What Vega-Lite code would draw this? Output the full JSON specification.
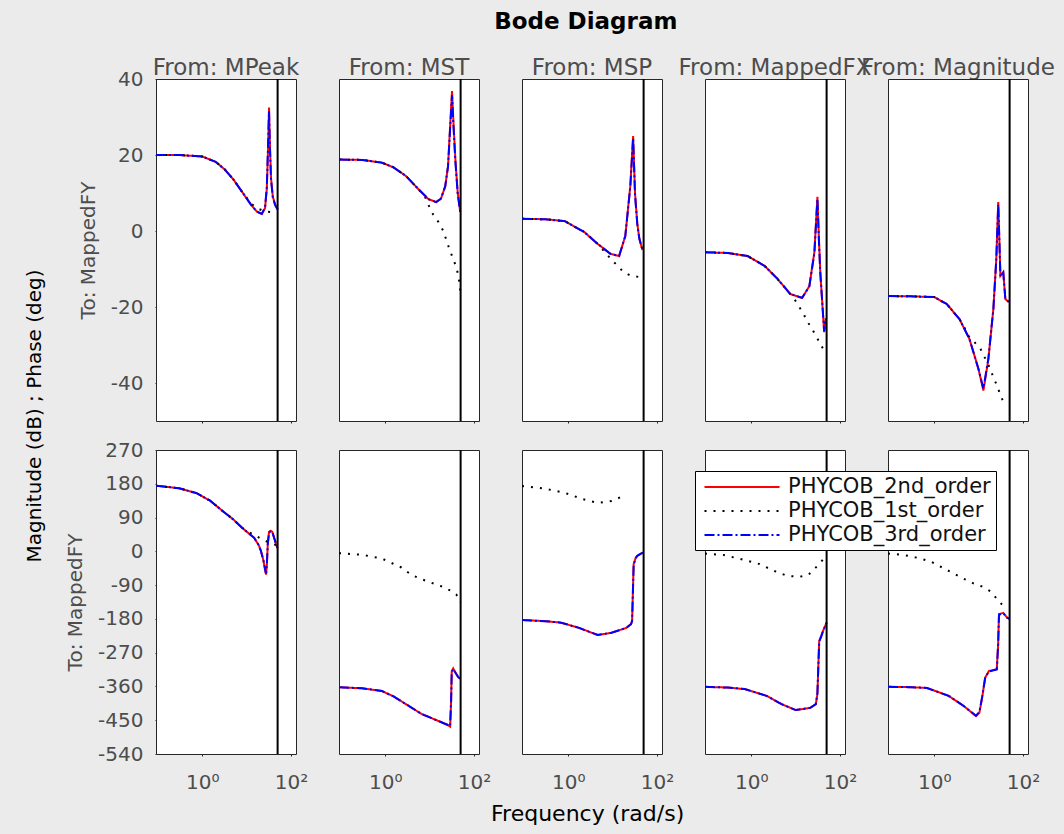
{
  "$schema": "https://vega.github.io/schema/vega-lite/v6.json",
  "background": "#ebebeb",
  "padding": {"left": 24, "top": 11, "right": 40, "bottom": 30},
  "title": {"text": "Bode Diagram", "font": "DejaVu Sans", "fontSize": 23, "fontWeight": "bold", "color": "#000000", "anchor": "middle", "offset": 23, "dx": 46},
  "datasets": {
    "bode": [
      {"i":"MPeak","q":"m","s":"2nd","f":0.09,"v":20},{"i":"MPeak","q":"m","s":"2nd","f":0.3,"v":20},{"i":"MPeak","q":"m","s":"2nd","f":1,"v":19.6},{"i":"MPeak","q":"m","s":"2nd","f":2,"v":18.2},{"i":"MPeak","q":"m","s":"2nd","f":3.2,"v":16.2},{"i":"MPeak","q":"m","s":"2nd","f":5,"v":13.6},{"i":"MPeak","q":"m","s":"2nd","f":8,"v":10.2},{"i":"MPeak","q":"m","s":"2nd","f":12.6,"v":6.9},{"i":"MPeak","q":"m","s":"2nd","f":17,"v":5.1},{"i":"MPeak","q":"m","s":"2nd","f":22,"v":4.5},{"i":"MPeak","q":"m","s":"2nd","f":26,"v":6},{"i":"MPeak","q":"m","s":"2nd","f":28.5,"v":11},{"i":"MPeak","q":"m","s":"2nd","f":30.5,"v":22},{"i":"MPeak","q":"m","s":"2nd","f":32,"v":32.5},{"i":"MPeak","q":"m","s":"2nd","f":33.5,"v":23},{"i":"MPeak","q":"m","s":"2nd","f":35.5,"v":14},{"i":"MPeak","q":"m","s":"2nd","f":39,"v":9},{"i":"MPeak","q":"m","s":"2nd","f":44,"v":7},{"i":"MPeak","q":"m","s":"2nd","f":50,"v":5.8},
      {"i":"MPeak","q":"m","s":"1st","f":0.09,"v":20},{"i":"MPeak","q":"m","s":"1st","f":0.3,"v":20},{"i":"MPeak","q":"m","s":"1st","f":1,"v":19.6},{"i":"MPeak","q":"m","s":"1st","f":2,"v":18.2},{"i":"MPeak","q":"m","s":"1st","f":3.2,"v":16.2},{"i":"MPeak","q":"m","s":"1st","f":5,"v":13.6},{"i":"MPeak","q":"m","s":"1st","f":8,"v":10.2},{"i":"MPeak","q":"m","s":"1st","f":12.6,"v":7.2},{"i":"MPeak","q":"m","s":"1st","f":17,"v":6},{"i":"MPeak","q":"m","s":"1st","f":25,"v":5.2},{"i":"MPeak","q":"m","s":"1st","f":35,"v":5},{"i":"MPeak","q":"m","s":"1st","f":50,"v":5.2},
      {"i":"MPeak","q":"m","s":"3rd","f":0.09,"v":20},{"i":"MPeak","q":"m","s":"3rd","f":0.3,"v":20},{"i":"MPeak","q":"m","s":"3rd","f":1,"v":19.6},{"i":"MPeak","q":"m","s":"3rd","f":2,"v":18.2},{"i":"MPeak","q":"m","s":"3rd","f":3.2,"v":16.2},{"i":"MPeak","q":"m","s":"3rd","f":5,"v":13.6},{"i":"MPeak","q":"m","s":"3rd","f":8,"v":10.2},{"i":"MPeak","q":"m","s":"3rd","f":12.6,"v":6.9},{"i":"MPeak","q":"m","s":"3rd","f":17,"v":5.1},{"i":"MPeak","q":"m","s":"3rd","f":22,"v":4.5},{"i":"MPeak","q":"m","s":"3rd","f":26,"v":6.2},{"i":"MPeak","q":"m","s":"3rd","f":28.5,"v":11.5},{"i":"MPeak","q":"m","s":"3rd","f":30.5,"v":23},{"i":"MPeak","q":"m","s":"3rd","f":32,"v":31.5},{"i":"MPeak","q":"m","s":"3rd","f":33.5,"v":22},{"i":"MPeak","q":"m","s":"3rd","f":35.5,"v":13.5},{"i":"MPeak","q":"m","s":"3rd","f":39,"v":8.8},{"i":"MPeak","q":"m","s":"3rd","f":44,"v":6.8},{"i":"MPeak","q":"m","s":"3rd","f":50,"v":5.6},

      {"i":"MPeak","q":"p","s":"2nd","f":0.09,"v":175},{"i":"MPeak","q":"p","s":"2nd","f":0.3,"v":168},{"i":"MPeak","q":"p","s":"2nd","f":0.74,"v":155},{"i":"MPeak","q":"p","s":"2nd","f":1.5,"v":135},{"i":"MPeak","q":"p","s":"2nd","f":2.9,"v":107},{"i":"MPeak","q":"p","s":"2nd","f":5,"v":85},{"i":"MPeak","q":"p","s":"2nd","f":8,"v":62},{"i":"MPeak","q":"p","s":"2nd","f":14.8,"v":36},{"i":"MPeak","q":"p","s":"2nd","f":19,"v":15},{"i":"MPeak","q":"p","s":"2nd","f":21,"v":1},{"i":"MPeak","q":"p","s":"2nd","f":24,"v":-25},{"i":"MPeak","q":"p","s":"2nd","f":26.5,"v":-55},{"i":"MPeak","q":"p","s":"2nd","f":27.5,"v":-62},{"i":"MPeak","q":"p","s":"2nd","f":28.5,"v":-40},{"i":"MPeak","q":"p","s":"2nd","f":30,"v":20},{"i":"MPeak","q":"p","s":"2nd","f":32,"v":52},{"i":"MPeak","q":"p","s":"2nd","f":35,"v":55},{"i":"MPeak","q":"p","s":"2nd","f":38,"v":52},{"i":"MPeak","q":"p","s":"2nd","f":42,"v":35},{"i":"MPeak","q":"p","s":"2nd","f":46,"v":20},{"i":"MPeak","q":"p","s":"2nd","f":50,"v":8},
      {"i":"MPeak","q":"p","s":"1st","f":0.09,"v":175},{"i":"MPeak","q":"p","s":"1st","f":0.3,"v":168},{"i":"MPeak","q":"p","s":"1st","f":0.74,"v":155},{"i":"MPeak","q":"p","s":"1st","f":1.5,"v":135},{"i":"MPeak","q":"p","s":"1st","f":2.9,"v":107},{"i":"MPeak","q":"p","s":"1st","f":5,"v":85},{"i":"MPeak","q":"p","s":"1st","f":8,"v":62},{"i":"MPeak","q":"p","s":"1st","f":14,"v":45},{"i":"MPeak","q":"p","s":"1st","f":20,"v":35},{"i":"MPeak","q":"p","s":"1st","f":30,"v":25},{"i":"MPeak","q":"p","s":"1st","f":50,"v":15},
      {"i":"MPeak","q":"p","s":"3rd","f":0.09,"v":175},{"i":"MPeak","q":"p","s":"3rd","f":0.3,"v":168},{"i":"MPeak","q":"p","s":"3rd","f":0.74,"v":155},{"i":"MPeak","q":"p","s":"3rd","f":1.5,"v":135},{"i":"MPeak","q":"p","s":"3rd","f":2.9,"v":107},{"i":"MPeak","q":"p","s":"3rd","f":5,"v":85},{"i":"MPeak","q":"p","s":"3rd","f":8,"v":62},{"i":"MPeak","q":"p","s":"3rd","f":14.8,"v":36},{"i":"MPeak","q":"p","s":"3rd","f":19,"v":15},{"i":"MPeak","q":"p","s":"3rd","f":21,"v":1},{"i":"MPeak","q":"p","s":"3rd","f":24,"v":-25},{"i":"MPeak","q":"p","s":"3rd","f":26.5,"v":-52},{"i":"MPeak","q":"p","s":"3rd","f":27.5,"v":-58},{"i":"MPeak","q":"p","s":"3rd","f":28.5,"v":-38},{"i":"MPeak","q":"p","s":"3rd","f":30,"v":20},{"i":"MPeak","q":"p","s":"3rd","f":32,"v":50},{"i":"MPeak","q":"p","s":"3rd","f":35,"v":54},{"i":"MPeak","q":"p","s":"3rd","f":38,"v":51},{"i":"MPeak","q":"p","s":"3rd","f":42,"v":35},{"i":"MPeak","q":"p","s":"3rd","f":46,"v":20},{"i":"MPeak","q":"p","s":"3rd","f":50,"v":8},

      {"i":"MST","q":"m","s":"2nd","f":0.09,"v":18.8},{"i":"MST","q":"m","s":"2nd","f":0.3,"v":18.7},{"i":"MST","q":"m","s":"2nd","f":0.83,"v":18},{"i":"MST","q":"m","s":"2nd","f":1.5,"v":16.8},{"i":"MST","q":"m","s":"2nd","f":2.9,"v":14.5},{"i":"MST","q":"m","s":"2nd","f":5.6,"v":11},{"i":"MST","q":"m","s":"2nd","f":9.4,"v":8.4},{"i":"MST","q":"m","s":"2nd","f":14,"v":7.6},{"i":"MST","q":"m","s":"2nd","f":18,"v":8.5},{"i":"MST","q":"m","s":"2nd","f":22.5,"v":11.8},{"i":"MST","q":"m","s":"2nd","f":26,"v":17},{"i":"MST","q":"m","s":"2nd","f":29,"v":27.6},{"i":"MST","q":"m","s":"2nd","f":32,"v":36.8},{"i":"MST","q":"m","s":"2nd","f":34,"v":30},{"i":"MST","q":"m","s":"2nd","f":38,"v":19},{"i":"MST","q":"m","s":"2nd","f":43,"v":10},{"i":"MST","q":"m","s":"2nd","f":49,"v":5},
      {"i":"MST","q":"m","s":"1st","f":0.09,"v":18.8},{"i":"MST","q":"m","s":"1st","f":0.3,"v":18.7},{"i":"MST","q":"m","s":"1st","f":0.83,"v":18},{"i":"MST","q":"m","s":"1st","f":1.5,"v":16.8},{"i":"MST","q":"m","s":"1st","f":2.9,"v":14.5},{"i":"MST","q":"m","s":"1st","f":5.6,"v":11},{"i":"MST","q":"m","s":"1st","f":8,"v":8.8},{"i":"MST","q":"m","s":"1st","f":11,"v":5},{"i":"MST","q":"m","s":"1st","f":15.7,"v":2.4},{"i":"MST","q":"m","s":"1st","f":20.4,"v":0},{"i":"MST","q":"m","s":"1st","f":26.5,"v":-4},{"i":"MST","q":"m","s":"1st","f":34,"v":-7.4},{"i":"MST","q":"m","s":"1st","f":40,"v":-9.5},{"i":"MST","q":"m","s":"1st","f":45,"v":-12},{"i":"MST","q":"m","s":"1st","f":48,"v":-14.5},{"i":"MST","q":"m","s":"1st","f":50,"v":-17},
      {"i":"MST","q":"m","s":"3rd","f":0.09,"v":18.8},{"i":"MST","q":"m","s":"3rd","f":0.3,"v":18.7},{"i":"MST","q":"m","s":"3rd","f":0.83,"v":18},{"i":"MST","q":"m","s":"3rd","f":1.5,"v":16.8},{"i":"MST","q":"m","s":"3rd","f":2.9,"v":14.5},{"i":"MST","q":"m","s":"3rd","f":5.6,"v":11},{"i":"MST","q":"m","s":"3rd","f":9.4,"v":8.4},{"i":"MST","q":"m","s":"3rd","f":14,"v":7.6},{"i":"MST","q":"m","s":"3rd","f":18,"v":8.5},{"i":"MST","q":"m","s":"3rd","f":22.5,"v":11.8},{"i":"MST","q":"m","s":"3rd","f":26,"v":17},{"i":"MST","q":"m","s":"3rd","f":29,"v":27},{"i":"MST","q":"m","s":"3rd","f":32,"v":35.8},{"i":"MST","q":"m","s":"3rd","f":34,"v":29},{"i":"MST","q":"m","s":"3rd","f":38,"v":18.5},{"i":"MST","q":"m","s":"3rd","f":43,"v":9.8},{"i":"MST","q":"m","s":"3rd","f":49,"v":5},

      {"i":"MST","q":"p","s":"2nd","f":0.09,"v":-362},{"i":"MST","q":"p","s":"2nd","f":0.3,"v":-365},{"i":"MST","q":"p","s":"2nd","f":0.83,"v":-372},{"i":"MST","q":"p","s":"2nd","f":1.5,"v":-386},{"i":"MST","q":"p","s":"2nd","f":2.9,"v":-407},{"i":"MST","q":"p","s":"2nd","f":6.5,"v":-433},{"i":"MST","q":"p","s":"2nd","f":15.7,"v":-452},{"i":"MST","q":"p","s":"2nd","f":25,"v":-462},{"i":"MST","q":"p","s":"2nd","f":29,"v":-467},{"i":"MST","q":"p","s":"2nd","f":30.5,"v":-400},{"i":"MST","q":"p","s":"2nd","f":31.5,"v":-320},{"i":"MST","q":"p","s":"2nd","f":34,"v":-312},{"i":"MST","q":"p","s":"2nd","f":38,"v":-322},{"i":"MST","q":"p","s":"2nd","f":44,"v":-335},{"i":"MST","q":"p","s":"2nd","f":50,"v":-340},
      {"i":"MST","q":"p","s":"1st","f":0.09,"v":-5},{"i":"MST","q":"p","s":"1st","f":0.29,"v":-9},{"i":"MST","q":"p","s":"1st","f":0.83,"v":-19},{"i":"MST","q":"p","s":"1st","f":2.3,"v":-43},{"i":"MST","q":"p","s":"1st","f":3.9,"v":-63},{"i":"MST","q":"p","s":"1st","f":6.5,"v":-74},{"i":"MST","q":"p","s":"1st","f":11,"v":-84},{"i":"MST","q":"p","s":"1st","f":18.3,"v":-93},{"i":"MST","q":"p","s":"1st","f":30,"v":-105},{"i":"MST","q":"p","s":"1st","f":40,"v":-115},{"i":"MST","q":"p","s":"1st","f":50,"v":-136},
      {"i":"MST","q":"p","s":"3rd","f":0.09,"v":-362},{"i":"MST","q":"p","s":"3rd","f":0.3,"v":-365},{"i":"MST","q":"p","s":"3rd","f":0.83,"v":-372},{"i":"MST","q":"p","s":"3rd","f":1.5,"v":-386},{"i":"MST","q":"p","s":"3rd","f":2.9,"v":-407},{"i":"MST","q":"p","s":"3rd","f":6.5,"v":-433},{"i":"MST","q":"p","s":"3rd","f":15.7,"v":-452},{"i":"MST","q":"p","s":"3rd","f":25,"v":-462},{"i":"MST","q":"p","s":"3rd","f":29,"v":-466},{"i":"MST","q":"p","s":"3rd","f":30.5,"v":-398},{"i":"MST","q":"p","s":"3rd","f":31.5,"v":-322},{"i":"MST","q":"p","s":"3rd","f":34,"v":-313},{"i":"MST","q":"p","s":"3rd","f":38,"v":-323},{"i":"MST","q":"p","s":"3rd","f":44,"v":-335},{"i":"MST","q":"p","s":"3rd","f":50,"v":-340},

      {"i":"MSP","q":"m","s":"2nd","f":0.09,"v":3.2},{"i":"MSP","q":"m","s":"2nd","f":0.3,"v":3.1},{"i":"MSP","q":"m","s":"2nd","f":0.83,"v":2.6},{"i":"MSP","q":"m","s":"2nd","f":2.3,"v":-0.3},{"i":"MSP","q":"m","s":"2nd","f":4.6,"v":-3.4},{"i":"MSP","q":"m","s":"2nd","f":8.9,"v":-6},{"i":"MSP","q":"m","s":"2nd","f":14,"v":-6.6},{"i":"MSP","q":"m","s":"2nd","f":19.3,"v":-1.3},{"i":"MSP","q":"m","s":"2nd","f":25,"v":11.8},{"i":"MSP","q":"m","s":"2nd","f":29,"v":25},{"i":"MSP","q":"m","s":"2nd","f":32,"v":10},{"i":"MSP","q":"m","s":"2nd","f":36,"v":2},{"i":"MSP","q":"m","s":"2nd","f":40,"v":-2},{"i":"MSP","q":"m","s":"2nd","f":47,"v":-5},
      {"i":"MSP","q":"m","s":"1st","f":0.09,"v":3.2},{"i":"MSP","q":"m","s":"1st","f":0.3,"v":3.1},{"i":"MSP","q":"m","s":"1st","f":0.83,"v":2.6},{"i":"MSP","q":"m","s":"1st","f":2.3,"v":-0.3},{"i":"MSP","q":"m","s":"1st","f":4.6,"v":-3.4},{"i":"MSP","q":"m","s":"1st","f":8.9,"v":-7.2},{"i":"MSP","q":"m","s":"1st","f":12,"v":-8.8},{"i":"MSP","q":"m","s":"1st","f":17.6,"v":-10.8},{"i":"MSP","q":"m","s":"1st","f":26,"v":-11.8},{"i":"MSP","q":"m","s":"1st","f":45,"v":-12.2},
      {"i":"MSP","q":"m","s":"3rd","f":0.09,"v":3.2},{"i":"MSP","q":"m","s":"3rd","f":0.3,"v":3.1},{"i":"MSP","q":"m","s":"3rd","f":0.83,"v":2.6},{"i":"MSP","q":"m","s":"3rd","f":2.3,"v":-0.3},{"i":"MSP","q":"m","s":"3rd","f":4.6,"v":-3.4},{"i":"MSP","q":"m","s":"3rd","f":8.9,"v":-6},{"i":"MSP","q":"m","s":"3rd","f":14,"v":-6.6},{"i":"MSP","q":"m","s":"3rd","f":19.3,"v":-1.3},{"i":"MSP","q":"m","s":"3rd","f":25,"v":11.5},{"i":"MSP","q":"m","s":"3rd","f":29,"v":24.5},{"i":"MSP","q":"m","s":"3rd","f":32,"v":9.5},{"i":"MSP","q":"m","s":"3rd","f":36,"v":1.8},{"i":"MSP","q":"m","s":"3rd","f":40,"v":-2},{"i":"MSP","q":"m","s":"3rd","f":47,"v":-5},

      {"i":"MSP","q":"p","s":"2nd","f":0.09,"v":-183},{"i":"MSP","q":"p","s":"2nd","f":0.3,"v":-186},{"i":"MSP","q":"p","s":"2nd","f":0.68,"v":-190},{"i":"MSP","q":"p","s":"2nd","f":1.75,"v":-204},{"i":"MSP","q":"p","s":"2nd","f":4.6,"v":-223},{"i":"MSP","q":"p","s":"2nd","f":9.4,"v":-217},{"i":"MSP","q":"p","s":"2nd","f":20.4,"v":-204},{"i":"MSP","q":"p","s":"2nd","f":26,"v":-194},{"i":"MSP","q":"p","s":"2nd","f":27.5,"v":-185},{"i":"MSP","q":"p","s":"2nd","f":29.8,"v":-34},{"i":"MSP","q":"p","s":"2nd","f":33,"v":-18},{"i":"MSP","q":"p","s":"2nd","f":36,"v":-12},{"i":"MSP","q":"p","s":"2nd","f":43.6,"v":-6},{"i":"MSP","q":"p","s":"2nd","f":50,"v":-3},
      {"i":"MSP","q":"p","s":"1st","f":0.09,"v":174},{"i":"MSP","q":"p","s":"1st","f":0.27,"v":168},{"i":"MSP","q":"p","s":"1st","f":0.83,"v":156},{"i":"MSP","q":"p","s":"1st","f":2.1,"v":139},{"i":"MSP","q":"p","s":"1st","f":4.6,"v":129},{"i":"MSP","q":"p","s":"1st","f":9.4,"v":134},{"i":"MSP","q":"p","s":"1st","f":18,"v":148},
      {"i":"MSP","q":"p","s":"3rd","f":0.09,"v":-183},{"i":"MSP","q":"p","s":"3rd","f":0.3,"v":-186},{"i":"MSP","q":"p","s":"3rd","f":0.68,"v":-190},{"i":"MSP","q":"p","s":"3rd","f":1.75,"v":-204},{"i":"MSP","q":"p","s":"3rd","f":4.6,"v":-223},{"i":"MSP","q":"p","s":"3rd","f":9.4,"v":-217},{"i":"MSP","q":"p","s":"3rd","f":20.4,"v":-204},{"i":"MSP","q":"p","s":"3rd","f":26,"v":-194},{"i":"MSP","q":"p","s":"3rd","f":27.5,"v":-185},{"i":"MSP","q":"p","s":"3rd","f":29.8,"v":-36},{"i":"MSP","q":"p","s":"3rd","f":33,"v":-18},{"i":"MSP","q":"p","s":"3rd","f":36,"v":-12},{"i":"MSP","q":"p","s":"3rd","f":43.6,"v":-6},{"i":"MSP","q":"p","s":"3rd","f":50,"v":-3},

      {"i":"MappedFX","q":"m","s":"2nd","f":0.09,"v":-5.6},{"i":"MappedFX","q":"m","s":"2nd","f":0.3,"v":-5.8},{"i":"MappedFX","q":"m","s":"2nd","f":0.83,"v":-6.6},{"i":"MappedFX","q":"m","s":"2nd","f":2,"v":-9.2},{"i":"MappedFX","q":"m","s":"2nd","f":3.9,"v":-12.6},{"i":"MappedFX","q":"m","s":"2nd","f":7.6,"v":-16.6},{"i":"MappedFX","q":"m","s":"2nd","f":14,"v":-17.6},{"i":"MappedFX","q":"m","s":"2nd","f":20.4,"v":-14.5},{"i":"MappedFX","q":"m","s":"2nd","f":26.5,"v":-5.5},{"i":"MappedFX","q":"m","s":"2nd","f":31,"v":9},{"i":"MappedFX","q":"m","s":"2nd","f":33.5,"v":-2},{"i":"MappedFX","q":"m","s":"2nd","f":36,"v":-10.8},{"i":"MappedFX","q":"m","s":"2nd","f":44,"v":-26.6},{"i":"MappedFX","q":"m","s":"2nd","f":48,"v":-23},
      {"i":"MappedFX","q":"m","s":"1st","f":0.09,"v":-5.6},{"i":"MappedFX","q":"m","s":"1st","f":0.3,"v":-5.8},{"i":"MappedFX","q":"m","s":"1st","f":0.83,"v":-6.6},{"i":"MappedFX","q":"m","s":"1st","f":2,"v":-9.2},{"i":"MappedFX","q":"m","s":"1st","f":3.9,"v":-12.6},{"i":"MappedFX","q":"m","s":"1st","f":7.6,"v":-16.6},{"i":"MappedFX","q":"m","s":"1st","f":9,"v":-17.6},{"i":"MappedFX","q":"m","s":"1st","f":11.7,"v":-19.7},{"i":"MappedFX","q":"m","s":"1st","f":15,"v":-21.8},{"i":"MappedFX","q":"m","s":"1st","f":20,"v":-24.5},{"i":"MappedFX","q":"m","s":"1st","f":27,"v":-27},{"i":"MappedFX","q":"m","s":"1st","f":36,"v":-29.7},{"i":"MappedFX","q":"m","s":"1st","f":44,"v":-31.5},{"i":"MappedFX","q":"m","s":"1st","f":48,"v":-31},
      {"i":"MappedFX","q":"m","s":"3rd","f":0.09,"v":-5.6},{"i":"MappedFX","q":"m","s":"3rd","f":0.3,"v":-5.8},{"i":"MappedFX","q":"m","s":"3rd","f":0.83,"v":-6.6},{"i":"MappedFX","q":"m","s":"3rd","f":2,"v":-9.2},{"i":"MappedFX","q":"m","s":"3rd","f":3.9,"v":-12.6},{"i":"MappedFX","q":"m","s":"3rd","f":7.6,"v":-16.6},{"i":"MappedFX","q":"m","s":"3rd","f":14,"v":-17.6},{"i":"MappedFX","q":"m","s":"3rd","f":20.4,"v":-14.5},{"i":"MappedFX","q":"m","s":"3rd","f":26.5,"v":-5.8},{"i":"MappedFX","q":"m","s":"3rd","f":31,"v":8.5},{"i":"MappedFX","q":"m","s":"3rd","f":33.5,"v":-2.5},{"i":"MappedFX","q":"m","s":"3rd","f":36,"v":-11},{"i":"MappedFX","q":"m","s":"3rd","f":44,"v":-26.4},{"i":"MappedFX","q":"m","s":"3rd","f":48,"v":-23},

      {"i":"MappedFX","q":"p","s":"2nd","f":0.09,"v":-361},{"i":"MappedFX","q":"p","s":"2nd","f":0.3,"v":-363},{"i":"MappedFX","q":"p","s":"2nd","f":0.71,"v":-367},{"i":"MappedFX","q":"p","s":"2nd","f":2.2,"v":-385},{"i":"MappedFX","q":"p","s":"2nd","f":4.8,"v":-407},{"i":"MappedFX","q":"p","s":"2nd","f":10.1,"v":-423},{"i":"MappedFX","q":"p","s":"2nd","f":21.4,"v":-417},{"i":"MappedFX","q":"p","s":"2nd","f":28.6,"v":-407},{"i":"MappedFX","q":"p","s":"2nd","f":31,"v":-380},{"i":"MappedFX","q":"p","s":"2nd","f":34,"v":-239},{"i":"MappedFX","q":"p","s":"2nd","f":38,"v":-225},{"i":"MappedFX","q":"p","s":"2nd","f":41.6,"v":-212},{"i":"MappedFX","q":"p","s":"2nd","f":50,"v":-190},
      {"i":"MappedFX","q":"p","s":"1st","f":0.09,"v":-6},{"i":"MappedFX","q":"p","s":"1st","f":0.23,"v":-9.5},{"i":"MappedFX","q":"p","s":"1st","f":0.6,"v":-21},{"i":"MappedFX","q":"p","s":"1st","f":1.54,"v":-34},{"i":"MappedFX","q":"p","s":"1st","f":3.25,"v":-52},{"i":"MappedFX","q":"p","s":"1st","f":6.3,"v":-65},{"i":"MappedFX","q":"p","s":"1st","f":12.1,"v":-68},{"i":"MappedFX","q":"p","s":"1st","f":19.3,"v":-63},{"i":"MappedFX","q":"p","s":"1st","f":34,"v":-34},{"i":"MappedFX","q":"p","s":"1st","f":45,"v":-17},
      {"i":"MappedFX","q":"p","s":"3rd","f":0.09,"v":-361},{"i":"MappedFX","q":"p","s":"3rd","f":0.3,"v":-363},{"i":"MappedFX","q":"p","s":"3rd","f":0.71,"v":-367},{"i":"MappedFX","q":"p","s":"3rd","f":2.2,"v":-385},{"i":"MappedFX","q":"p","s":"3rd","f":4.8,"v":-407},{"i":"MappedFX","q":"p","s":"3rd","f":10.1,"v":-423},{"i":"MappedFX","q":"p","s":"3rd","f":21.4,"v":-417},{"i":"MappedFX","q":"p","s":"3rd","f":28.6,"v":-407},{"i":"MappedFX","q":"p","s":"3rd","f":31,"v":-378},{"i":"MappedFX","q":"p","s":"3rd","f":34,"v":-241},{"i":"MappedFX","q":"p","s":"3rd","f":38,"v":-226},{"i":"MappedFX","q":"p","s":"3rd","f":41.6,"v":-212},{"i":"MappedFX","q":"p","s":"3rd","f":50,"v":-190},

      {"i":"Magnitude","q":"m","s":"2nd","f":0.09,"v":-17.1},{"i":"Magnitude","q":"m","s":"2nd","f":0.3,"v":-17.2},{"i":"Magnitude","q":"m","s":"2nd","f":1,"v":-17.4},{"i":"Magnitude","q":"m","s":"2nd","f":1.9,"v":-19.2},{"i":"Magnitude","q":"m","s":"2nd","f":3.7,"v":-23.2},{"i":"Magnitude","q":"m","s":"2nd","f":6.2,"v":-28.4},{"i":"Magnitude","q":"m","s":"2nd","f":9.9,"v":-36.3},{"i":"Magnitude","q":"m","s":"2nd","f":12.8,"v":-42},{"i":"Magnitude","q":"m","s":"2nd","f":16.6,"v":-33.7},{"i":"Magnitude","q":"m","s":"2nd","f":21.5,"v":-20.5},{"i":"Magnitude","q":"m","s":"2nd","f":25,"v":-7.4},{"i":"Magnitude","q":"m","s":"2nd","f":27.7,"v":7.6},{"i":"Magnitude","q":"m","s":"2nd","f":29.5,"v":-3},{"i":"Magnitude","q":"m","s":"2nd","f":31,"v":-11.8},{"i":"Magnitude","q":"m","s":"2nd","f":36,"v":-10.8},{"i":"Magnitude","q":"m","s":"2nd","f":40,"v":-17.9},{"i":"Magnitude","q":"m","s":"2nd","f":48,"v":-18.7},
      {"i":"Magnitude","q":"m","s":"1st","f":0.09,"v":-17.1},{"i":"Magnitude","q":"m","s":"1st","f":0.3,"v":-17.2},{"i":"Magnitude","q":"m","s":"1st","f":1,"v":-17.4},{"i":"Magnitude","q":"m","s":"1st","f":1.9,"v":-19.2},{"i":"Magnitude","q":"m","s":"1st","f":3.7,"v":-23.2},{"i":"Magnitude","q":"m","s":"1st","f":4.6,"v":-25},{"i":"Magnitude","q":"m","s":"1st","f":5.8,"v":-27.5},{"i":"Magnitude","q":"m","s":"1st","f":8,"v":-29.2},{"i":"Magnitude","q":"m","s":"1st","f":11,"v":-31},{"i":"Magnitude","q":"m","s":"1st","f":17,"v":-35.5},{"i":"Magnitude","q":"m","s":"1st","f":25,"v":-40.3},{"i":"Magnitude","q":"m","s":"1st","f":36,"v":-45},{"i":"Magnitude","q":"m","s":"1st","f":45,"v":-45.5},
      {"i":"Magnitude","q":"m","s":"3rd","f":0.09,"v":-17.1},{"i":"Magnitude","q":"m","s":"3rd","f":0.3,"v":-17.2},{"i":"Magnitude","q":"m","s":"3rd","f":1,"v":-17.4},{"i":"Magnitude","q":"m","s":"3rd","f":1.9,"v":-19.2},{"i":"Magnitude","q":"m","s":"3rd","f":3.7,"v":-23.2},{"i":"Magnitude","q":"m","s":"3rd","f":6.2,"v":-28.4},{"i":"Magnitude","q":"m","s":"3rd","f":9.9,"v":-36.3},{"i":"Magnitude","q":"m","s":"3rd","f":12.8,"v":-41.5},{"i":"Magnitude","q":"m","s":"3rd","f":16.6,"v":-33.5},{"i":"Magnitude","q":"m","s":"3rd","f":21.5,"v":-20.5},{"i":"Magnitude","q":"m","s":"3rd","f":25,"v":-7.6},{"i":"Magnitude","q":"m","s":"3rd","f":27.7,"v":7},{"i":"Magnitude","q":"m","s":"3rd","f":29.5,"v":-3.5},{"i":"Magnitude","q":"m","s":"3rd","f":31,"v":-12},{"i":"Magnitude","q":"m","s":"3rd","f":36,"v":-11},{"i":"Magnitude","q":"m","s":"3rd","f":40,"v":-17.8},{"i":"Magnitude","q":"m","s":"3rd","f":48,"v":-18.7},

      {"i":"Magnitude","q":"p","s":"2nd","f":0.09,"v":-361},{"i":"Magnitude","q":"p","s":"2nd","f":0.3,"v":-362},{"i":"Magnitude","q":"p","s":"2nd","f":0.68,"v":-364},{"i":"Magnitude","q":"p","s":"2nd","f":2.1,"v":-385},{"i":"Magnitude","q":"p","s":"2nd","f":4.6,"v":-412},{"i":"Magnitude","q":"p","s":"2nd","f":8.7,"v":-439},{"i":"Magnitude","q":"p","s":"2nd","f":10.4,"v":-430},{"i":"Magnitude","q":"p","s":"2nd","f":12,"v":-390},{"i":"Magnitude","q":"p","s":"2nd","f":14,"v":-337},{"i":"Magnitude","q":"p","s":"2nd","f":17,"v":-319},{"i":"Magnitude","q":"p","s":"2nd","f":25.7,"v":-314},{"i":"Magnitude","q":"p","s":"2nd","f":27.5,"v":-250},{"i":"Magnitude","q":"p","s":"2nd","f":28.8,"v":-167},{"i":"Magnitude","q":"p","s":"2nd","f":36,"v":-164},{"i":"Magnitude","q":"p","s":"2nd","f":44,"v":-177},{"i":"Magnitude","q":"p","s":"2nd","f":50,"v":-180},
      {"i":"Magnitude","q":"p","s":"1st","f":0.09,"v":-6},{"i":"Magnitude","q":"p","s":"1st","f":0.2,"v":-9.5},{"i":"Magnitude","q":"p","s":"1st","f":0.45,"v":-18},{"i":"Magnitude","q":"p","s":"1st","f":0.86,"v":-28},{"i":"Magnitude","q":"p","s":"1st","f":2.1,"v":-52},{"i":"Magnitude","q":"p","s":"1st","f":4.1,"v":-70},{"i":"Magnitude","q":"p","s":"1st","f":7.2,"v":-84},{"i":"Magnitude","q":"p","s":"1st","f":11.5,"v":-93},{"i":"Magnitude","q":"p","s":"1st","f":18.3,"v":-106},{"i":"Magnitude","q":"p","s":"1st","f":32.6,"v":-140},{"i":"Magnitude","q":"p","s":"1st","f":45,"v":-145},
      {"i":"Magnitude","q":"p","s":"3rd","f":0.09,"v":-361},{"i":"Magnitude","q":"p","s":"3rd","f":0.3,"v":-362},{"i":"Magnitude","q":"p","s":"3rd","f":0.68,"v":-364},{"i":"Magnitude","q":"p","s":"3rd","f":2.1,"v":-385},{"i":"Magnitude","q":"p","s":"3rd","f":4.6,"v":-412},{"i":"Magnitude","q":"p","s":"3rd","f":8.7,"v":-438},{"i":"Magnitude","q":"p","s":"3rd","f":10.4,"v":-428},{"i":"Magnitude","q":"p","s":"3rd","f":12,"v":-388},{"i":"Magnitude","q":"p","s":"3rd","f":14,"v":-338},{"i":"Magnitude","q":"p","s":"3rd","f":17,"v":-320},{"i":"Magnitude","q":"p","s":"3rd","f":25.7,"v":-315},{"i":"Magnitude","q":"p","s":"3rd","f":27.5,"v":-250},{"i":"Magnitude","q":"p","s":"3rd","f":28.8,"v":-169},{"i":"Magnitude","q":"p","s":"3rd","f":36,"v":-165},{"i":"Magnitude","q":"p","s":"3rd","f":44,"v":-177},{"i":"Magnitude","q":"p","s":"3rd","f":50,"v":-180},

      {"i":"MPeak","s":"nyq","f":50},{"i":"MST","s":"nyq","f":50},{"i":"MSP","s":"nyq","f":50},{"i":"MappedFX","s":"nyq","f":50},{"i":"Magnitude","s":"nyq","f":50}
    ]
  },
  "vconcat": [
    {
      "title": {"text": "Magnitude (dB) ; Phase (deg)", "orient": "left", "anchor": "middle", "font": "DejaVu Sans", "fontSize": 20, "fontWeight": "normal", "color": "#000000", "offset": 21, "dx": 25},
      "spacing": 16,
      "vconcat": [
        {
          "data": {"name": "bode"},
          "transform": [{"filter": "datum.q == 'm' || datum.s == 'nyq'"}],
          "facet": {"column": {"field": "i", "type": "nominal", "sort": ["MPeak", "MST", "MSP", "MappedFX", "Magnitude"], "header": {"title": null, "labelExpr": "'From: ' + datum.value"}}},
          "spacing": {"column": 41},
          "spec": {
            "width": 140,
            "height": 342,
            "layer": [
              {
                "transform": [{"filter": "datum.s != 'nyq'"}],
                "mark": {"type": "line", "strokeWidth": 2, "clip": true},
                "encoding": {
                  "x": {"field": "f", "type": "quantitative", "scale": {"type": "log", "domain": [0.09, 130]}, "axis": {"values": [1, 100], "labels": false, "title": null}},
                  "y": {"field": "v", "type": "quantitative", "scale": {"domain": [-50, 40]}, "axis": {"values": [-40, -20, 0, 20, 40], "title": "To: MappedFY", "labelExpr": "toString(datum.value)"}},
                  "color": {"field": "s", "type": "nominal", "scale": {"domain": ["2nd", "1st", "3rd"], "range": ["#ff0000", "#000000", "#0000ff"]}, "legend": {"title": null, "orient": "none", "legendX": 539, "legendY": 392, "labelExpr": "'PHYCOB_' + datum.label + '_order'"}},
                  "strokeDash": {"field": "s", "type": "nominal", "scale": {"domain": ["2nd", "1st", "3rd"], "range": [[1, 0], [2, 7], [10, 3, 2, 3]]}, "legend": {"title": null, "orient": "none", "legendX": 539, "legendY": 392, "labelExpr": "'PHYCOB_' + datum.label + '_order'"}}
                }
              },
              {
                "transform": [{"filter": "datum.s == 'nyq'"}],
                "mark": {"type": "rule", "color": "#000000", "strokeWidth": 2},
                "encoding": {"x": {"field": "f", "type": "quantitative", "scale": {"type": "log", "domain": [0.09, 130]}}}
              }
            ]
          }
        },
        {
          "data": {"name": "bode"},
          "transform": [{"filter": "datum.q == 'p' || datum.s == 'nyq'"}],
          "title": {"text": "Frequency  (rad/s)", "orient": "bottom", "anchor": "middle", "font": "DejaVu Sans", "fontSize": 22, "fontWeight": "normal", "color": "#000000", "offset": 12, "dx": 35},
          "facet": {"column": {"field": "i", "type": "nominal", "sort": ["MPeak", "MST", "MSP", "MappedFX", "Magnitude"], "header": {"title": null, "labels": false}}},
          "spacing": {"column": 41},
          "spec": {
            "width": 140,
            "height": 304,
            "layer": [
              {
                "transform": [{"filter": "datum.s != 'nyq'"}],
                "mark": {"type": "line", "strokeWidth": 2, "clip": true},
                "encoding": {
                  "x": {"field": "f", "type": "quantitative", "scale": {"type": "log", "domain": [0.09, 130]}, "axis": {"values": [1, 100], "title": null, "labelPadding": 21, "labelExpr": "datum.value == 1 ? '10⁰' : '10²'"}},
                  "y": {"field": "v", "type": "quantitative", "scale": {"domain": [-540, 270]}, "axis": {"values": [-540, -450, -360, -270, -180, -90, 0, 90, 180, 270], "title": "To: MappedFY", "labelExpr": "toString(datum.value)"}},
                  "color": {"field": "s", "type": "nominal", "scale": {"domain": ["2nd", "1st", "3rd"], "range": ["#ff0000", "#000000", "#0000ff"]}, "legend": {"title": null, "orient": "none", "legendX": 539, "legendY": 392, "labelExpr": "'PHYCOB_' + datum.label + '_order'"}},
                  "strokeDash": {"field": "s", "type": "nominal", "scale": {"domain": ["2nd", "1st", "3rd"], "range": [[1, 0], [2, 7], [10, 3, 2, 3]]}, "legend": {"title": null, "orient": "none", "legendX": 539, "legendY": 392, "labelExpr": "'PHYCOB_' + datum.label + '_order'"}}
                }
              },
              {
                "transform": [{"filter": "datum.s == 'nyq'"}],
                "mark": {"type": "rule", "color": "#000000", "strokeWidth": 2},
                "encoding": {"x": {"field": "f", "type": "quantitative", "scale": {"type": "log", "domain": [0.09, 130]}}}
              }
            ]
          }
        }
      ]
    }
  ],
  "config": {
    "font": "DejaVu Sans",
    "view": {"stroke": "#262626", "strokeWidth": 1, "fill": "#ffffff"},
    "axis": {"grid": false, "domain": false, "ticks": true, "tickSize": -5, "tickColor": "#262626", "tickWidth": 1, "labelFlush": false, "labelFont": "DejaVu Sans", "labelFontSize": 20, "labelColor": "#4d4d4d", "labelPadding": 17, "titleFont": "DejaVu Sans", "titleFontSize": 20, "titleFontWeight": "normal", "titleColor": "#4d4d4d", "titlePadding": 12},
    "header": {"labelFont": "DejaVu Sans", "labelFontSize": 23, "labelColor": "#4d4d4d", "labelPadding": -3},
    "legend": {"symbolType": "M-3.75,0H3.75", "symbolSize": 400, "symbolStrokeWidth": 2, "symbolOffset": 31, "labelOffset": 35, "labelFont": "DejaVu Sans", "labelFontSize": 21, "labelColor": "#111111", "fillColor": "#ffffff", "strokeColor": "#000000", "padding": 5, "rowPadding": 3, "labelLimit": 400}
  }
}
